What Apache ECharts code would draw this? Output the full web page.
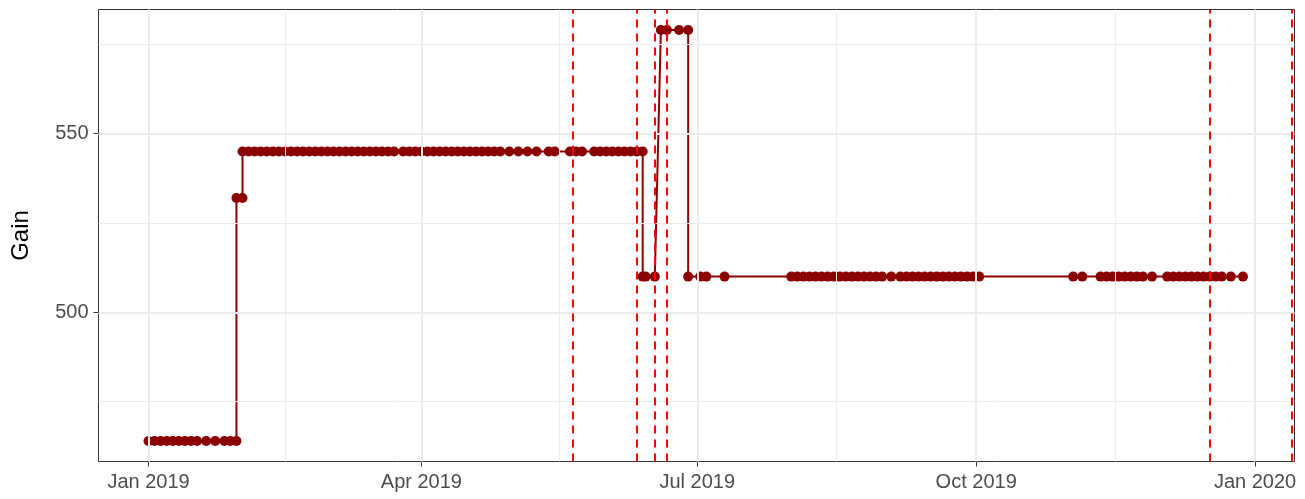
<!DOCTYPE html>
<html>
<head>
<meta charset="utf-8">
<script src="https://cdn.jsdelivr.net/npm/echarts@6/dist/echarts.min.js"></script>
<style>
html, body { margin: 0; padding: 0; background: #fff; }
#container { width: 1305px; height: 499px; }
</style>
</head>
<body>
<div id="container"></div>
<script>
// observation dates and the gain read at each one (rows line up)
var dates = [
  '2019-01-01','2019-01-03','2019-01-05','2019-01-07','2019-01-09','2019-01-11','2019-01-13',
  '2019-01-15','2019-01-17','2019-01-20','2019-01-23','2019-01-26','2019-01-28','2019-01-30',
  '2019-01-30','2019-02-01',
  '2019-02-01','2019-02-03','2019-02-05','2019-02-07','2019-02-09','2019-02-11','2019-02-13',
  '2019-02-15','2019-02-17','2019-02-19','2019-02-21','2019-02-23','2019-02-25','2019-02-27',
  '2019-03-01','2019-03-03','2019-03-05','2019-03-07','2019-03-09','2019-03-11','2019-03-13',
  '2019-03-15','2019-03-17','2019-03-19','2019-03-21','2019-03-23','2019-03-26','2019-03-28',
  '2019-03-30','2019-04-01','2019-04-03','2019-04-05','2019-04-07','2019-04-09','2019-04-11',
  '2019-04-13','2019-04-15','2019-04-17','2019-04-19','2019-04-21','2019-04-23','2019-04-25',
  '2019-04-27','2019-04-30','2019-05-03','2019-05-06','2019-05-09','2019-05-13','2019-05-15',
  '2019-05-20','2019-05-22','2019-05-24','2019-05-28','2019-05-30','2019-06-01','2019-06-03',
  '2019-06-05','2019-06-07','2019-06-09','2019-06-11','2019-06-13',
  '2019-06-13','2019-06-14','2019-06-17',
  '2019-06-19','2019-06-21','2019-06-25','2019-06-28',
  '2019-06-28','2019-07-02','2019-07-04','2019-07-10',
  '2019-08-01','2019-08-03','2019-08-05','2019-08-07','2019-08-09','2019-08-11','2019-08-13',
  '2019-08-15','2019-08-17','2019-08-19','2019-08-21','2019-08-23','2019-08-25','2019-08-27',
  '2019-08-29','2019-08-31','2019-09-03','2019-09-06','2019-09-08','2019-09-10','2019-09-12',
  '2019-09-14','2019-09-16','2019-09-18','2019-09-20','2019-09-22','2019-09-24','2019-09-26',
  '2019-09-28','2019-09-30','2019-10-02',
  '2019-11-02','2019-11-05','2019-11-11','2019-11-13','2019-11-15','2019-11-17','2019-11-19',
  '2019-11-21','2019-11-23','2019-11-25','2019-11-28',
  '2019-12-03','2019-12-05','2019-12-07','2019-12-09','2019-12-11','2019-12-13','2019-12-15',
  '2019-12-17','2019-12-19','2019-12-21','2019-12-24','2019-12-28'
];
var gain = [
  464,464,464,464,464,464,464,
  464,464,464,464,464,464,464,
  532,532,
  545,545,545,545,545,545,545,
  545,545,545,545,545,545,545,
  545,545,545,545,545,545,545,
  545,545,545,545,545,545,545,
  545,545,545,545,545,545,545,
  545,545,545,545,545,545,545,
  545,545,545,545,545,545,545,
  545,545,545,545,545,545,545,
  545,545,545,545,545,
  510,510,510,
  579,579,579,579,
  510,510,510,510,
  510,510,510,510,510,510,510,
  510,510,510,510,510,510,510,
  510,510,510,510,510,510,510,
  510,510,510,510,510,510,510,
  510,510,510,
  510,510,510,510,510,510,510,
  510,510,510,510,
  510,510,510,510,510,510,510,
  510,510,510,510,510
];
// dashed vertical markers
var eventDates = ['2019-05-21','2019-06-11','2019-06-17','2019-06-21','2019-12-17','2020-01-13'];
// axis breaks
var xTicks = ['2019-01-01','2019-04-01','2019-07-01','2019-10-01','2020-01-01'];
var xMinor = ['2019-02-15','2019-05-16T12:00:00Z','2019-08-16','2019-11-16'];
var yTicks = [500, 550];
var yMinor = [475, 525, 575];
var monthNames = ['Jan','Feb','Mar','Apr','May','Jun','Jul','Aug','Sep','Oct','Nov','Dec'];

function t(s) {
  return Date.parse(s.length === 10 ? s + 'T00:00:00Z' : s);
}

window.onload = function () {
  var myChart = echarts.init(document.getElementById('container'));

  var points = dates.map(function (d, i) { return [t(d), gain[i]]; });

  function vLines(list) {
    return list.map(function (d) { return { xAxis: t(d) }; });
  }
  function hLines(list) {
    return list.map(function (v) { return { yAxis: v }; });
  }

  var option = {
    animation: false,
    textStyle: { fontFamily: 'Liberation Sans, Arial, sans-serif' },
    grid: {
      left: 98.5, right: 10.5, top: 9.5, bottom: 37.5,
      outerBoundsMode: 'none',
      containLabel: false,
      show: true, borderColor: '#333333', borderWidth: 1, backgroundColor: '#fff'
    },
    xAxis: {
      type: 'value',
      min: t('2018-12-15T12:00:00Z'),
      max: t('2020-01-14'),
      axisLine: { show: false },
      axisTick: { show: true, customValues: xTicks.map(t), length: 5, lineStyle: { color: '#333333', width: 1 } },
      axisLabel: {
        customValues: xTicks.map(t),
        color: '#4D4D4D', fontSize: 20, margin: 11,
        formatter: function (val) {
          var d = new Date(val);
          return monthNames[d.getUTCMonth()] + ' ' + d.getUTCFullYear();
        }
      },
      splitLine: { show: false }
    },
    yAxis: {
      type: 'value',
      min: 458.25,
      max: 584.75,
      name: 'Gain',
      nameLocation: 'middle',
      nameGap: 65,
      nameRotate: 90,
      nameTextStyle: { color: '#000', fontSize: 24 },
      axisLine: { show: false },
      axisTick: { show: true, customValues: yTicks, length: 5, lineStyle: { color: '#333333', width: 1 } },
      axisLabel: { customValues: yTicks, color: '#4D4D4D', fontSize: 20, margin: 10 },
      splitLine: { show: false }
    },
    series: [
      {
        // panel grid lines
        type: 'line', data: [], z: 1, silent: true,
        markLine: {
          silent: true, symbol: ['none', 'none'], label: { show: false },
          data: vLines(xMinor).concat(hLines(yMinor)),
          lineStyle: { color: '#EBEBEB', width: 1, type: 'solid' }
        }
      },
      {
        type: 'line', data: [], z: 1, silent: true,
        markLine: {
          silent: true, symbol: ['none', 'none'], label: { show: false },
          data: vLines(xTicks).concat(hLines(yTicks)),
          lineStyle: { color: '#EBEBEB', width: 2, type: 'solid' }
        }
      },
      {
        name: 'Gain',
        type: 'line',
        data: points,
        z: 3,
        symbol: 'circle',
        symbolSize: 10,
        showAllSymbol: true,
        itemStyle: { color: '#8B0000' },
        lineStyle: { color: '#8B0000', width: 2 }
      },
      {
        type: 'line', data: [], z: 4, silent: true,
        markLine: {
          silent: true, symbol: ['none', 'none'], label: { show: false },
          data: vLines(eventDates),
          lineStyle: { color: '#FF0000', width: 2, type: [8, 6] }
        }
      }
    ]
  };

  if (option && typeof option === 'object') {
    myChart.setOption(option, true);
  }
};
</script>
</body>
</html>
